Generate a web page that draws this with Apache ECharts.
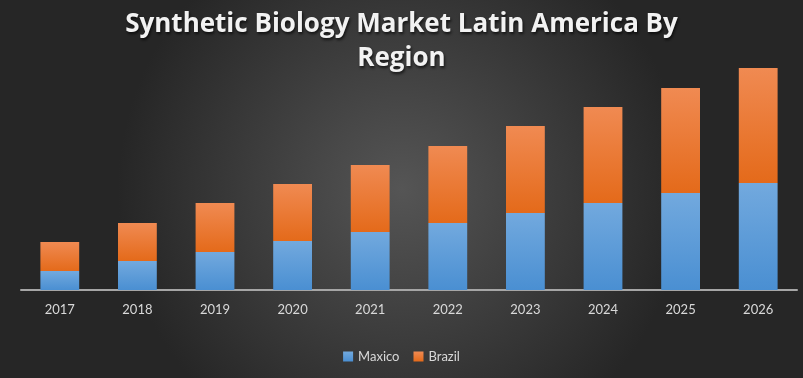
<!DOCTYPE html>
<html><head><meta charset="utf-8">
<script src="https://cdn.jsdelivr.net/npm/echarts@6/dist/echarts.min.js"></script>
<style>html,body{margin:0;padding:0;}#c{width:803px;height:378px;}</style>
</head><body><div id="c"></div>
<script>
var categories = ['2017','2018','2019','2020','2021','2022','2023','2024','2025','2026'];
var mexico = [19, 29, 38, 49, 58, 67, 77, 87, 97, 107];
var brazil = [29, 38, 49, 57, 67, 77, 87, 96, 105, 115];
var titleText = 'Synthetic Biology Market Latin America By\nRegion';
var chart = echarts.init(document.getElementById('c'));
function grad(top, bottom){
  return new echarts.graphic.LinearGradient(0,0,0,1,[{offset:0,color:top},{offset:1,color:bottom}]);
}
chart.setOption({
  backgroundColor: new echarts.graphic.RadialGradient(0.5,0.5,0.75,[{offset:0,color:'#555555'},{offset:1,color:'#262626'}]),
  title: {
    text: titleText, left: 'center', top: 3,
    textStyle: {color:'#f2f2f2', fontFamily:'Open Sans', fontWeight:'bold', fontSize:26, lineHeight:34,
      textShadowColor:'rgba(0,0,0,0.7)', textShadowBlur:3, textShadowOffsetX:1, textShadowOffsetY:2}
  },
  legend: {
    data:['Maxico','Brazil'], bottom: 10, left:'center', itemWidth:10, itemHeight:10, itemGap:14,
    icon:'rect',
    textStyle:{color:'#d9d9d9', fontFamily:'Lato', fontSize:13}
  },
  grid: {left:21, right:6, top:50, bottom:88},
  xAxis: {
    type:'category', data: categories,
    axisLine:{lineStyle:{color:'#a6a6a6', width:2}},
    axisTick:{show:false},
    axisLabel:{color:'#d9d9d9', fontFamily:'Lato', fontSize:13, margin:13}
  },
  yAxis: {type:'value', min:0, max:240, show:false, splitLine:{show:false}},
  series: [
    {name:'Maxico', type:'bar', stack:'a', data: mexico, barWidth:'50%',
     itemStyle:{color:grad('#72a9de','#4a8fd2'), shadowColor:'rgba(0,0,0,0.5)', shadowBlur:6}},
    {name:'Brazil', type:'bar', stack:'a', data: brazil, barWidth:'50%',
     itemStyle:{color:grad('#f08a52','#e46a1a'), shadowColor:'rgba(0,0,0,0.5)', shadowBlur:6}}
  ]
});
</script></body></html>
